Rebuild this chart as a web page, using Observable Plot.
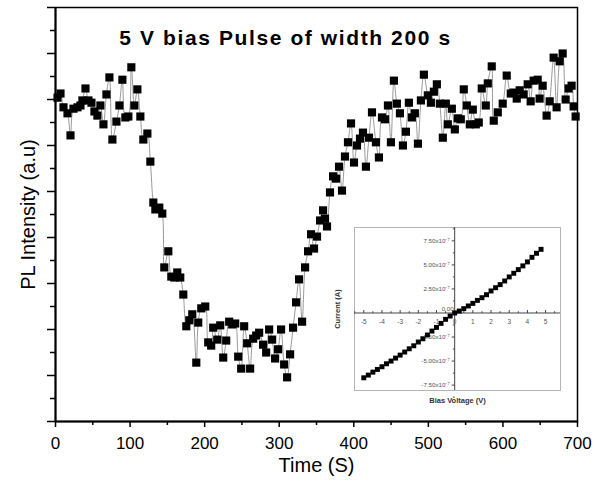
<!DOCTYPE html>
<html>
<head>
<meta charset="utf-8">
<script src="https://cdn.jsdelivr.net/npm/d3@7"></script>
<script src="https://cdn.jsdelivr.net/npm/@observablehq/plot@0.6"></script>
<style>
  html, body { margin: 0; padding: 0; background: #fff; }
  #wrap { position: relative; width: 604px; height: 482px; font-family: "Liberation Sans", Arial, sans-serif; }
  #inset { position: absolute; left: 325px; top: 222px; }
</style>
</head>
<body>
<div id="wrap"><div id="main"></div><div id="inset"></div></div>
<script>
// ---- Main chart data: PL intensity vs time ----
const titleText = "5 V bias Pulse of width 200 s";
const xLabel = "Time (S)";
const yLabel = "PL Intensity (a.u)";
const timeTicks = [0, 100, 200, 300, 400, 500, 600, 700];
const timeMinorTicks = [50, 150, 250, 350, 450, 550, 650];
const intensityTicks = [0, 1, 2, 3, 4, 5, 6, 7, 8, 9];
const intensityMinorTicks = [0.5, 1.5, 2.5, 3.5, 4.5, 5.5, 6.5, 7.5, 8.5];

const time = [
  2.7, 6.7, 10.7, 16.1, 20.1, 24.1, 29.5, 33.5, 36.1, 40.2,
  44.2, 48.2, 52.2, 56.2, 60.2, 64.3, 68.3, 72.3, 76.3, 81.7,
  85.7, 89.7, 93.7, 97.7, 101.7, 105.8, 109.8, 113.8, 117.8, 123.2,
  127.2, 131.2, 133.9, 139.2, 143.2, 145.9, 151.3, 155.3, 159.3, 163.3,
  167.3, 171.4, 175.4, 179.4, 183.4, 188.8, 191.4, 195.5, 200.8, 204.8,
  208.8, 211.5, 216.9, 220.9, 224.9, 228.9, 232.9, 237.0, 241.0, 245.0,
  249.0, 253.0, 257.0, 261.0, 265.1, 269.1, 273.1, 278.4, 282.5, 286.5,
  290.5, 294.5, 298.5, 302.5, 306.6, 310.6, 314.6, 318.6, 322.6, 326.6,
  330.7, 334.7, 338.7, 342.7, 346.7, 350.7, 354.8, 358.8, 361.4, 364.1,
  368.1, 372.2, 376.2, 380.2, 384.2, 388.2, 392.2, 396.3, 400.3, 404.3,
  408.3, 412.3, 416.3, 420.4, 424.4, 429.7, 433.7, 437.8, 441.8, 445.8,
  449.8, 453.8, 457.8, 461.9, 465.9, 469.9, 473.9, 477.9, 481.9, 486.0,
  490.0, 494.0, 499.3, 503.4, 507.4, 511.4, 515.4, 519.4, 523.4, 526.1,
  531.5, 535.5, 539.5, 543.5, 547.5, 551.6, 555.6, 559.6, 563.6, 567.6,
  571.6, 577.0, 579.7, 585.0, 587.7, 593.1, 599.7, 605.1, 610.5, 614.5,
  618.5, 622.5, 627.8, 633.2, 637.2, 641.2, 646.6, 649.2, 653.3, 658.6,
  662.7, 668.0, 672.0, 676.1, 680.1, 684.1, 688.1, 692.1, 694.8, 697.5
];
const intensity = [
  7.04, 7.13, 6.83, 6.70, 6.22, 6.80, 6.83, 6.87, 6.98, 7.24,
  6.98, 6.93, 6.74, 6.65, 6.87, 6.46, 7.11, 7.48, 6.13, 6.52,
  6.87, 7.43, 6.61, 6.63, 7.70, 6.87, 7.22, 6.63, 6.13, 6.26,
  5.65, 4.76, 4.61, 4.65, 4.52, 3.35, 3.70, 3.15, 3.13, 3.24,
  3.13, 2.76, 2.07, 2.20, 2.33, 1.28, 2.15, 2.46, 2.50, 1.72,
  1.65, 2.04, 1.78, 2.09, 1.39, 1.76, 2.17, 2.11, 2.13, 1.41,
  1.15, 2.07, 1.70, 1.15, 1.80, 1.87, 1.93, 1.67, 1.50, 2.00,
  1.78, 1.37, 1.57, 2.00, 1.24, 0.96, 1.46, 2.04, 2.59, 3.09,
  2.17, 3.35, 3.70, 4.07, 3.76, 4.02, 4.37, 4.59, 4.41, 4.24,
  4.98, 5.33, 5.28, 5.54, 5.02, 5.76, 6.07, 6.48, 5.63, 6.00,
  6.15, 6.28, 5.54, 6.17, 6.72, 6.07, 5.74, 6.61, 6.57, 6.87,
  6.07, 7.41, 6.91, 6.70, 6.00, 6.30, 6.93, 6.61, 6.70, 6.04,
  6.98, 7.54, 7.09, 6.93, 7.17, 7.33, 6.91, 6.17, 6.91, 6.46,
  6.80, 6.35, 6.59, 6.57, 7.22, 6.87, 6.46, 6.78, 6.46, 6.50,
  7.24, 6.87, 7.35, 7.72, 6.54, 6.72, 6.91, 7.52, 7.13, 7.15,
  7.02, 7.20, 7.11, 7.33, 6.96, 7.41, 7.43, 7.02, 7.30, 6.65,
  6.96, 7.91, 6.83, 7.83, 8.00, 7.00, 7.24, 7.30, 6.85, 6.63
];

// ---- Inset data: I-V curve ----
const insetXLabel = "Bias Voltage (V)";
const insetYLabel = "Current (A)";
const voltage = [
  -5, -4.75, -4.5, -4.25, -4, -3.75, -3.5, -3.25, -3, -2.75,
  -2.5, -2.25, -2, -1.75, -1.5, -1.25, -1, -0.75, -0.5, -0.25,
  0, 0.25, 0.5, 0.75, 1, 1.25, 1.5, 1.75, 2, 2.25,
  2.5, 2.75, 3, 3.25, 3.5, 3.75, 4, 4.25, 4.5, 4.75
];
const current = [
  -6.74e-7, -6.46e-7, -6.15e-7, -5.87e-7, -5.59e-7, -5.28e-7, -5.00e-7, -4.69e-7, -4.38e-7, -4.06e-7,
  -3.72e-7, -3.41e-7, -3.02e-7, -2.68e-7, -2.29e-7, -1.88e-7, -1.50e-7, -1.08e-7, -0.66e-7, -0.32e-7,
  0, 0.20e-7, 0.45e-7, 0.73e-7, 1.00e-7, 1.31e-7, 1.59e-7, 1.90e-7, 2.29e-7, 2.63e-7,
  2.95e-7, 3.33e-7, 3.75e-7, 4.13e-7, 4.51e-7, 4.90e-7, 5.31e-7, 5.79e-7, 6.21e-7, 6.62e-7
];
const voltageTicks = [-5, -4, -3, -2, -1, 0, 1, 2, 3, 4, 5];
const voltageMinorTicks = [-5.5, -4.5, -3.5, -2.5, -1.5, -0.5, 0.5, 1.5, 2.5, 3.5, 4.5, 5.5];
const currentTicks = [-7.5e-7, -5e-7, -2.5e-7, 2.5e-7, 5e-7, 7.5e-7];
const currentZeroTick = [0];
const currentMinorTicks = [-8.75e-7, -6.25e-7, -3.75e-7, -1.25e-7, 1.25e-7, 3.75e-7, 6.25e-7, 8.75e-7];

const FONT = "'Liberation Sans', Arial, Helvetica, sans-serif";

const pl = time.map((t, i) => ({t, v: intensity[i]}));

const main = Plot.plot({
  width: 604, height: 482,
  marginLeft: 55, marginRight: 27, marginTop: 7, marginBottom: 61,
  style: {fontFamily: FONT, background: "white", color: "black"},
  x: {domain: [0, 700]},
  y: {domain: [0, 9]},
  marks: [
    Plot.frame({stroke: "black", strokeWidth: 1.5}),
    Plot.ruleX([0], {stroke: "black", strokeWidth: 2}),
    Plot.ruleY([0], {stroke: "black", strokeWidth: 2}),
    Plot.axisX(timeTicks, {tickSize: 6, tickPadding: 9, fontSize: 17, label: null, strokeWidth: 1.5}),
    Plot.axisX(timeMinorTicks, {tickSize: 4, tickFormat: () => "", label: null, strokeWidth: 1.5}),
    Plot.axisY(intensityTicks, {tickSize: 8, tickFormat: () => "", label: null, strokeWidth: 1.5}),
    Plot.axisY(intensityMinorTicks, {tickSize: 5, tickFormat: () => "", label: null, strokeWidth: 1.5}),
    Plot.line(pl, {x: "t", y: "v", curve: "catmull-rom", stroke: "#999", strokeWidth: 1}),
    Plot.dot(pl, {x: "t", y: "v", symbol: "square", r: 4.6, fill: "black", stroke: "none"}),
    Plot.text([titleText], {text: d => d, frameAnchor: "top", dx: -31, dy: 23, fontSize: 21, fontWeight: "bold", fill: "black"}),
    Plot.text([xLabel], {text: d => d, frameAnchor: "bottom", dy: 50, fontSize: 20, fill: "black"}),
    Plot.text([yLabel], {text: d => d, frameAnchor: "left", textAnchor: "middle", dx: -27, rotate: -90, fontSize: 20, fill: "black"})
  ]
});
document.getElementById("main").appendChild(main);
// widen the title's letter spacing to match the reference's wider bold type
d3.select(main).selectAll("text").filter(function() { return this.textContent === titleText; })
  .attr("letter-spacing", "1.6px");

// custom tick symbols for the inset's centred axes
const vTick = {draw(ctx) { ctx.moveTo(0, -3); ctx.lineTo(0, 0); }};
const vTickMinor = {draw(ctx) { ctx.moveTo(0, -1.8); ctx.lineTo(0, 0); }};
const hTick = {draw(ctx) { ctx.moveTo(-3, 0); ctx.lineTo(0, 0); }};
const hTickMinor = {draw(ctx) { ctx.moveTo(-1.8, 0); ctx.lineTo(0, 0); }};

const iv = voltage.map((v, i) => ({v, c: current[i]}));
const fmtCurrent = d => (d / 1e-7).toFixed(2) + "x10\u207B\u2077";

const inset = Plot.plot({
  width: 250, height: 195,
  marginLeft: 29, marginRight: 15, marginTop: 5, marginBottom: 27,
  style: {fontFamily: FONT, background: "transparent", color: "#333"},
  x: {domain: [-5.51, 5.82], axis: null},
  y: {domain: [-8.06e-7, 8.89e-7], axis: null},
  marks: [
    Plot.frame({stroke: "#b5b5b5", strokeWidth: 1}),
    Plot.ruleY([0], {stroke: "#444", strokeWidth: 1}),
    Plot.ruleX([0], {stroke: "#444", strokeWidth: 1}),
    Plot.dot(voltageTicks, {x: d => d, y: 0, symbol: vTick, stroke: "#444", fill: "none", strokeWidth: 1}),
    Plot.dot(voltageMinorTicks, {x: d => d, y: 0, symbol: vTickMinor, stroke: "#444", fill: "none", strokeWidth: 1}),
    Plot.dot(currentTicks, {x: 0, y: d => d, symbol: hTick, stroke: "#444", fill: "none", strokeWidth: 1}),
    Plot.dot(currentMinorTicks, {x: 0, y: d => d, symbol: hTickMinor, stroke: "#444", fill: "none", strokeWidth: 1}),
    Plot.text(voltageTicks, {x: d => d, y: 0, text: d => String(d), dy: 9, fontSize: 6.5, fill: "#555"}),
    Plot.text(currentTicks, {x: 0, y: d => d, text: fmtCurrent, textAnchor: "end", dx: -5, fontSize: 6.2, fill: "#555"}),
    Plot.text(currentZeroTick, {x: 0, y: d => d, text: d => d.toFixed(2), textAnchor: "end", dx: -1, dy: -4, fontSize: 6.2, fill: "#555"}),
    Plot.dot(iv, {x: "v", y: "c", symbol: "square", r: 2.8, fill: "black", stroke: "none"}),
    Plot.text([insetXLabel], {text: d => d, frameAnchor: "bottom", dy: 12, fontSize: 7.5, fontWeight: "bold", fill: "#333"}),
    Plot.text([insetYLabel], {text: d => d, frameAnchor: "left", textAnchor: "middle", dx: -17, rotate: -90, fontSize: 7.5, fontWeight: "bold", fill: "#333"})
  ]
});
document.getElementById("inset").appendChild(inset);
</script>
</body>
</html>
